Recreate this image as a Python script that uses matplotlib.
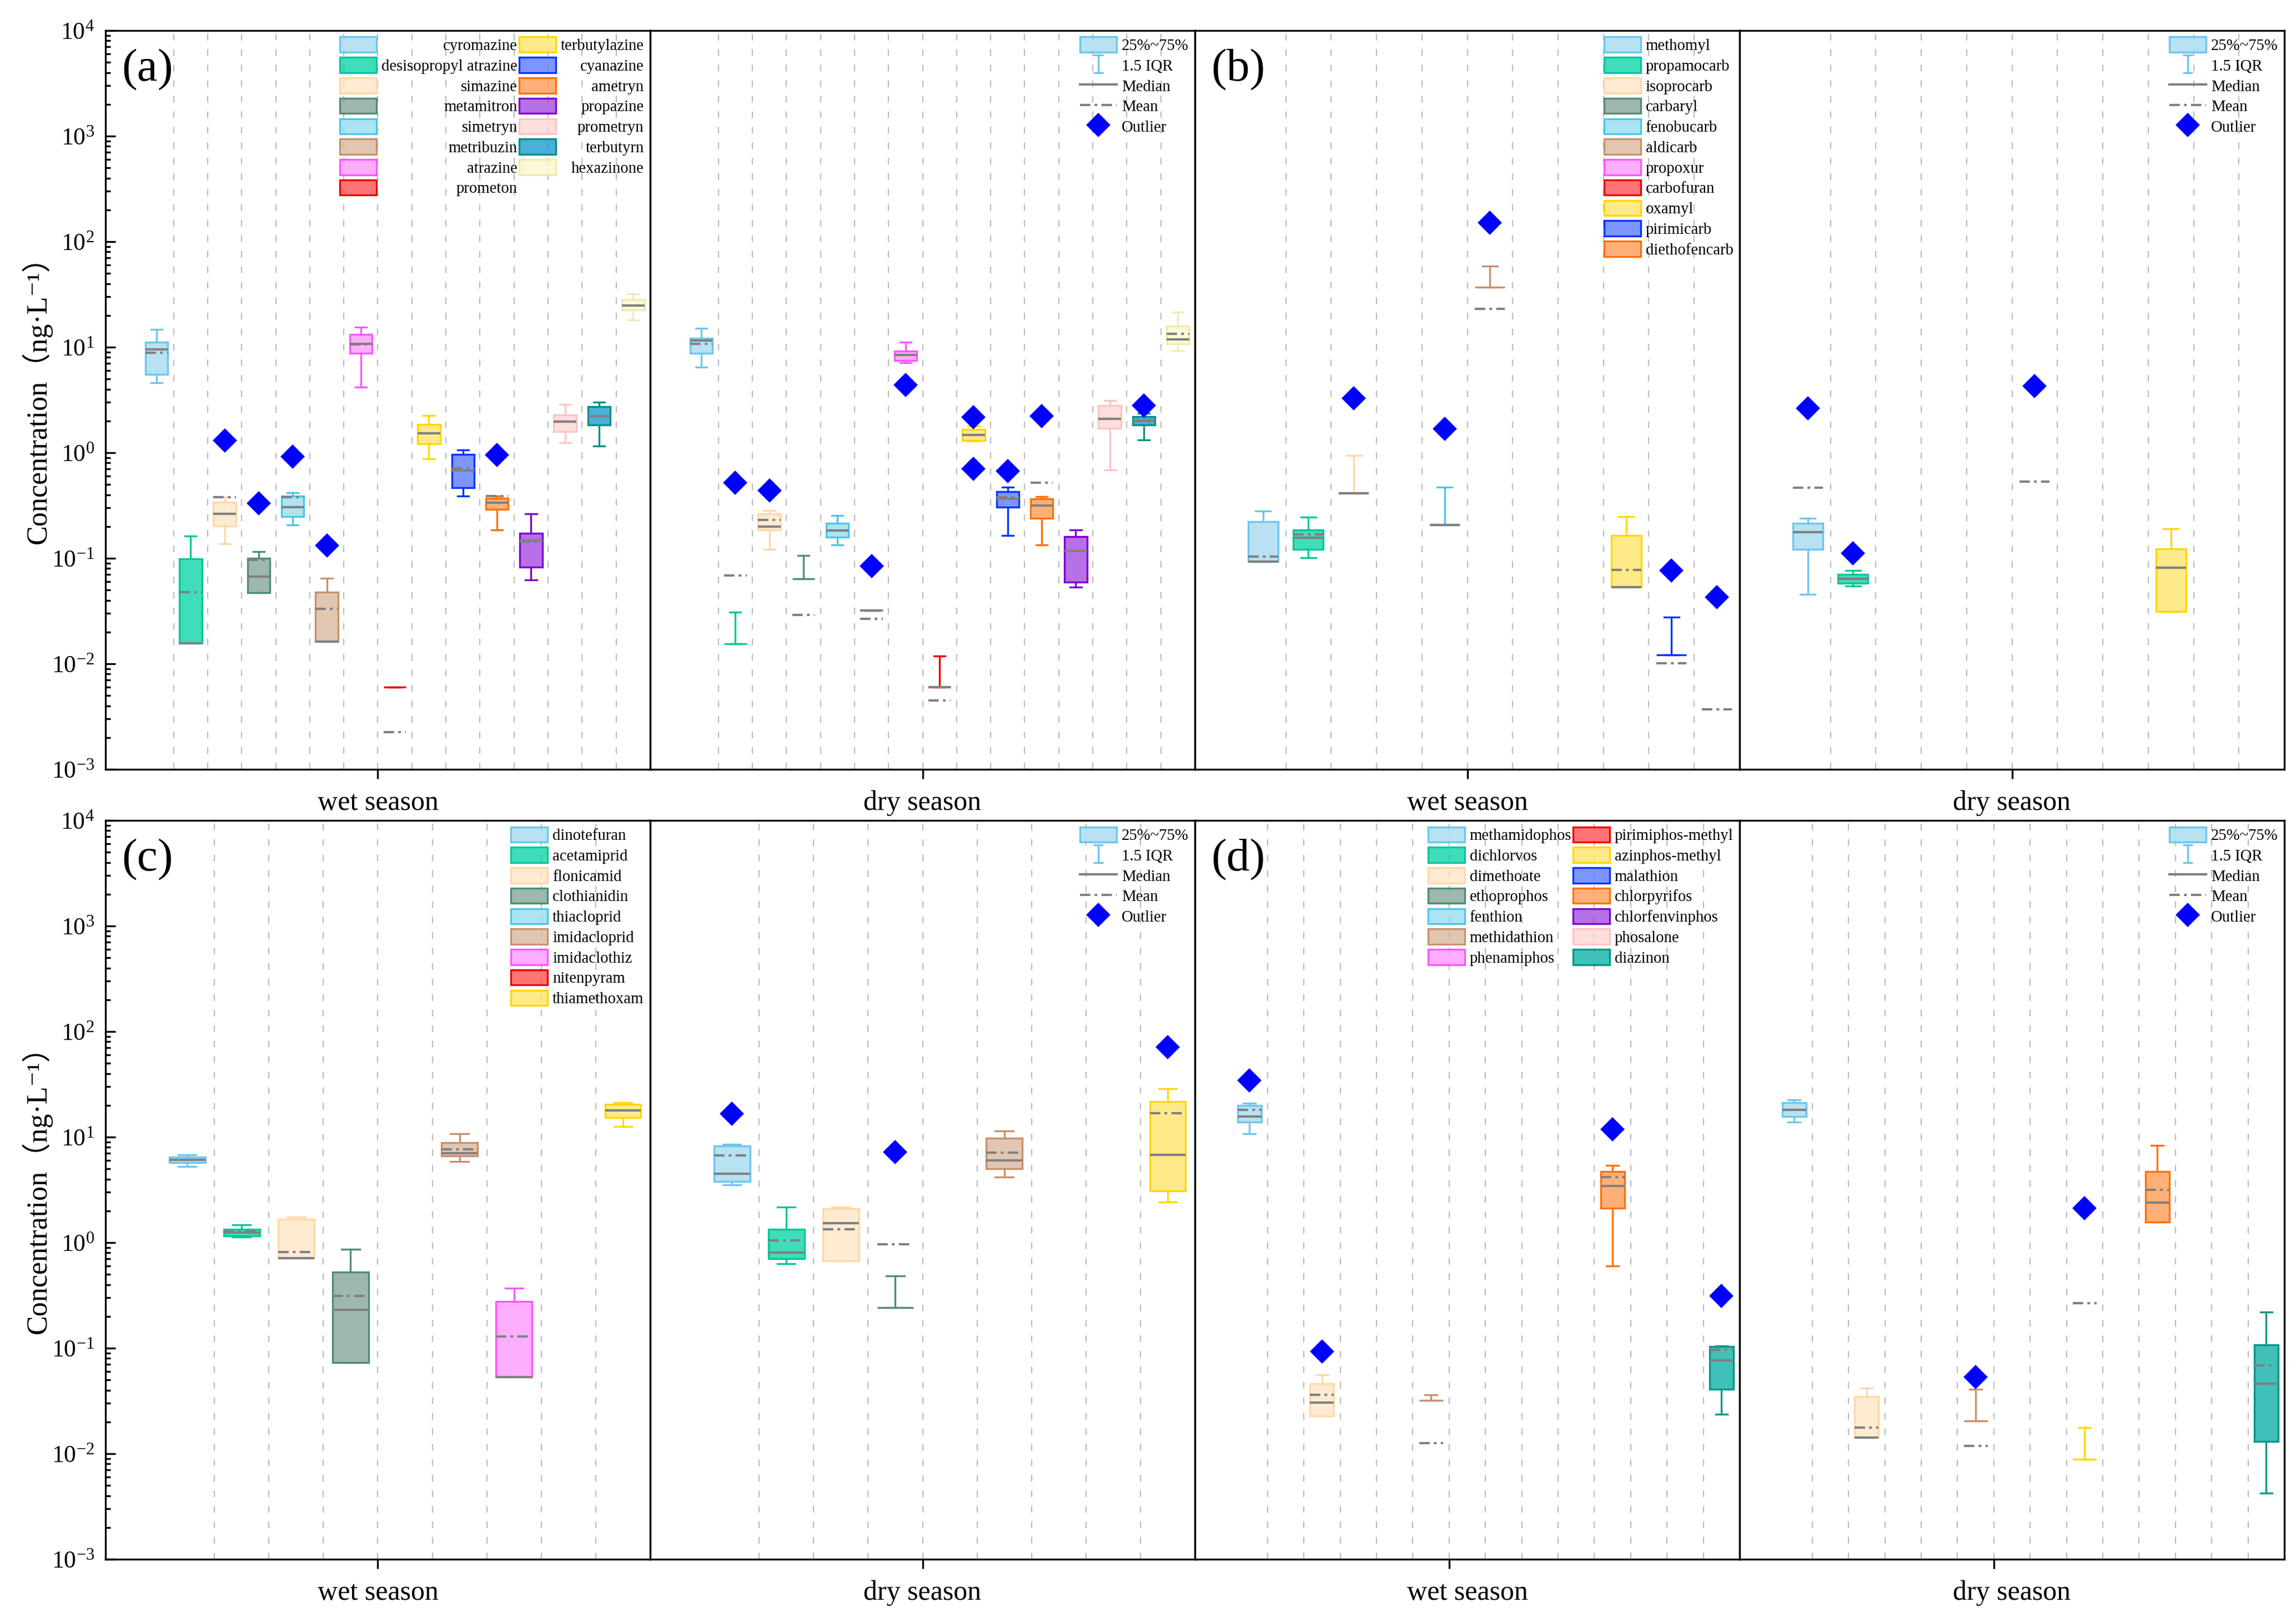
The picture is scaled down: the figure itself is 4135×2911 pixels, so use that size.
import numpy as np
import matplotlib
matplotlib.use('Agg')
import matplotlib.pyplot as plt
from matplotlib.patches import Patch
from matplotlib.lines import Line2D
from matplotlib.path import Path
from matplotlib.colors import to_rgb
from matplotlib.ticker import LogLocator, NullFormatter, NullLocator

plt.rcParams['font.family'] = ['Liberation Serif', 'DejaVu Serif']
plt.rcParams['mathtext.fontset'] = 'stix'
plt.rcParams['lines.scale_dashes'] = False

N = None

#   Compounds
a_names = ['cyromazine', 'desisopropyl atrazine', 'simazine', 'metamitron', 'simetryn',
           'metribuzin', 'atrazine', 'prometon', 'terbutylazine', 'cyanazine', 'ametryn',
           'propazine', 'prometryn', 'terbutyrn', 'hexazinone']
b_names = ['methomyl', 'propamocarb', 'isoprocarb', 'carbaryl', 'fenobucarb', 'aldicarb',
           'propoxur', 'carbofuran', 'oxamyl', 'pirimicarb', 'diethofencarb']
c_names = ['dinotefuran', 'acetamiprid', 'flonicamid', 'clothianidin', 'thiacloprid',
           'imidacloprid', 'imidaclothiz', 'nitenpyram', 'thiamethoxam']
d_names = ['methamidophos', 'dichlorvos', 'dimethoate', 'ethoprophos', 'fenthion',
           'methidathion', 'phenamiphos', 'pirimiphos-methyl', 'azinphos-methyl', 'malathion',
           'chlorpyrifos', 'chlorfenvinphos', 'phosalone', 'diazinon']

#   (whisker low, Q1, median, Q3, whisker high, mean), None = not shown
a_wet = [(4.6, 5.5, 9.5, 11.1, 14.7, 8.9),
         (0.0157, 0.0157, 0.0157, 0.099, 0.162, 0.048),
         (0.137, 0.203, 0.265, 0.34, 0.38, 0.38),
         (0.047, 0.047, 0.067, 0.1, 0.115, 0.096),
         (0.207, 0.248, 0.304, 0.39, 0.42, 0.38),
         (0.0162, 0.0162, 0.0162, 0.048, 0.065, 0.033),
         (4.17, 8.8, 10.8, 13.2, 15.5, 10.6),
         (0.006, 0.006, N, 0.006, 0.006, 0.00224),
         (0.88, 1.22, 1.53, 1.85, 2.24, 1.53),
         (0.39, 0.466, 0.675, 0.97, 1.06, 0.71),
         (0.185, 0.29, 0.336, 0.37, 0.39, 0.39),
         (0.062, 0.082, 0.148, 0.173, 0.265, 0.144),
         (1.25, 1.58, 1.96, 2.27, 2.88, 1.96),
         (1.16, 1.83, 2.22, 2.72, 3.0, 2.22),
         (18.1, 22.5, 24.8, 28.4, 32.0, 24.8)]
a_wet_out = [[], [], [1.31], [0.33], [0.914], [0.132], [], [], [], [], [0.955], [], [], [], []]

a_dry = [(6.45, 8.8, 11.6, 12.1, 15.1, 10.8),
         (0.0155, 0.0155, N, 0.0155, 0.0308, 0.069),
         (0.121, 0.185, 0.199, 0.265, 0.284, 0.232),
         (0.064, 0.064, N, 0.064, 0.106, 0.029),
         (0.134, 0.158, 0.183, 0.215, 0.254, 0.183),
         (0.0321, 0.0321, 0.0321, 0.0321, 0.0321, 0.0266),
         (7.1, 7.5, 8.4, 9.2, 11.1, 8.4),
         (0.006, 0.006, 0.006, 0.006, 0.0118, 0.0045),
         (1.29, 1.31, 1.47, 1.67, 1.79, 1.47),
         (0.164, 0.304, 0.364, 0.43, 0.47, 0.38),
         (0.134, 0.238, 0.318, 0.364, 0.385, 0.52),
         (0.0533, 0.0597, 0.117, 0.16, 0.185, 0.117),
         (0.69, 1.71, 2.1, 2.81, 3.11, 2.1),
         (1.32, 1.83, 2.03, 2.19, 2.35, 2.0),
         (9.35, 10.7, 11.8, 15.9, 21.5, 13.4)]
a_dry_out = [[], [0.52], [0.44], [], [], [0.0846], [4.4], [], [2.17, 0.70], [0.667], [2.22],
             [], [], [2.81], []]

b_wet = [(0.0925, 0.0925, 0.0925, 0.222, 0.281, 0.1035),
         (0.101, 0.121, 0.157, 0.185, 0.245, 0.169),
         (0.412, 0.412, 0.412, 0.412, 0.946, 0.412),
         N,
         (0.207, 0.207, 0.207, 0.207, 0.471, 0.207),
         (37.2, 37.2, N, 37.2, 59.0, 23.2),
         N,
         N,
         (0.0533, 0.0533, 0.0533, 0.164, 0.248, 0.0773),
         (0.0122, 0.0122, N, 0.0122, 0.0278, 0.0101),
         (N, N, N, N, N, 0.00372)]
b_wet_out = [[], [], [3.29], [], [1.69], [151], [], [], [], [0.0764], [0.0426]]

b_dry = [(0.0456, 0.121, 0.177, 0.215, 0.238, 0.466),
         (0.0546, 0.0583, 0.0638, 0.0706, 0.0764, 0.064),
         N, N, N,
         (N, N, N, N, N, 0.533),
         N, N,
         (0.0311, 0.0311, 0.0817, 0.1225, 0.19, 0.0817),
         N, N]
b_dry_out = [[2.63], [0.111], [], [], [], [4.26], [], [], [], [], []]

c_wet = [(5.27, 5.7, 6.1, 6.45, 6.75, 6.1),
         (1.13, 1.16, 1.25, 1.34, 1.48, 1.27),
         (0.708, 0.708, 0.708, 1.66, 1.74, 0.81),
         (0.0734, 0.0734, 0.23, 0.523, 0.867, 0.312),
         N,
         (5.9, 6.6, 7.05, 8.9, 10.7, 7.7),
         (0.053, 0.053, 0.053, 0.276, 0.37, 0.129),
         N,
         (12.6, 15.3, 17.9, 20.5, 21.2, 17.9)]
c_wet_out = [[], [], [], [], [], [], [], [], []]

c_dry = [(3.52, 3.77, 4.5, 8.2, 8.5, 6.67),
         (0.63, 0.70, 0.80, 1.33, 2.17, 1.05),
         (0.67, 0.67, 1.52, 2.1, 2.17, 1.34),
         (0.241, 0.241, N, 0.241, 0.483, 0.96),
         N,
         (4.2, 5.04, 6.0, 9.8, 11.4, 7.1),
         N, N,
         (2.43, 3.08, 6.8, 21.7, 28.6, 16.9)]
c_dry_out = [[16.7], [], [], [7.2], [], [], [], [], [71]]

d_wet = [(10.7, 13.8, 15.6, 20.0, 20.9, 18.1),
         N,
         (0.0229, 0.0229, 0.0306, 0.0459, 0.0561, 0.0362),
         N, N,
         (0.032, 0.032, N, 0.032, 0.0362, 0.0126),
         N, N, N, N,
         (0.598, 2.12, 3.44, 4.71, 5.4, 4.17),
         N, N,
         (0.0237, 0.0406, 0.0767, 0.104, 0.105, 0.097)]
d_wet_out = [[34.3], [], [0.0933], [], [], [], [], [], [], [], [11.9], [], [], [0.312]]

d_dry = [(13.8, 15.6, 18.1, 21.2, 22.6, 18.1),
         N,
         (0.01426, 0.01426, 0.01426, 0.035, 0.042, 0.0177),
         N, N,
         (0.0205, 0.0205, N, 0.0205, 0.0406, 0.0118),
         N, N,
         (0.0089, 0.0089, N, 0.0089, 0.0177, 0.267),
         N,
         (1.57, 1.57, 2.38, 4.71, 8.36, 3.18),
         N, N,
         (0.00425, 0.0131, 0.0459, 0.107, 0.219, 0.069)]
d_dry_out = [[], [], [], [], [], [0.0531], [], [], [2.12], [], [], [], [], []]

#   Colores
edges = ['#6CC6EC', '#00C896', '#FFD8A8', '#4E8C74', '#48C8E8', '#C8906C', '#FF55FF', '#EE0000',
         '#FFD700', '#0033FF', '#FF7000', '#7B00D4', '#FFC4C4', '#009080', '#F2EAB0']
faces = ['#B8E2F2', '#22DDBB', '#FFEBD2', '#9DB8AC', '#ACE4F2', '#E2C6B2', '#FFAEFF', '#FF7474',
         '#FFEA8A', '#7D96FF', '#FFB078', '#B870E8', '#FFDEDE', '#48B0DC', '#FBF8D8']
GREY = '#808080'
MEAN_LS = (0, (4.5, 1.8, 1.2, 1.8))


def face_rgba(c, a=0.75):
    rgb = np.clip((np.array(to_rgb(c)) - (1 - a)) / a, 0, 1)
    return (*rgb, a)


def draw_season(ax, rows, outs, ed, fc):
    n = len(rows)
    for x in range(2, n + 1):
        ax.axvline(x, color='#BDBDBD', lw=0.55, ls=(0, (2.9, 3.8)), zorder=0.5)
    for i, (row, fl) in enumerate(zip(rows, outs)):
        if row is None:
            continue
        lo, q1, med, q3, hi, mean = row
        fill = q1 if q1 is not None else mean
        st = dict(whislo=lo if lo is not None else fill,
                  q1=fill,
                  med=med if med is not None else fill,
                  q3=q3 if q3 is not None else fill,
                  whishi=hi if hi is not None else fill,
                  mean=mean if mean is not None else fill,
                  fliers=np.array(fl))
        art = ax.bxp([st], positions=[i + 1.5], widths=0.66, capwidths=0.33,
                     patch_artist=True, showmeans=True, meanline=True, manage_ticks=False,
                     boxprops=dict(facecolor=face_rgba(fc[i]), edgecolor=ed[i], linewidth=0.8),
                     whiskerprops=dict(color=ed[i], linewidth=0.8),
                     capprops=dict(color=ed[i], linewidth=0.8),
                     medianprops=dict(color=GREY, linewidth=1.0),
                     meanprops=dict(color=GREY, linewidth=1.0, linestyle=MEAN_LS),
                     flierprops=dict(marker='D', markerfacecolor='blue', markeredgecolor='blue',
                                     markersize=6.5, linestyle='none'))
        if q1 is None:
            for k in ('boxes', 'whiskers', 'caps'):
                for a in art[k]:
                    a.set_visible(False)
        if med is None:
            for a in art['medians']:
                a.set_visible(False)
        if mean is None:
            for a in art['means']:
                a.set_visible(False)


def style_axis(ax, n, xlabel, first):
    ax.set_yscale('log')
    ax.set_ylim(1e-3, 1e4)
    ax.set_xlim(0, n + 1)
    for s in ax.spines.values():
        s.set_linewidth(0.8)
    ax.set_xticks([(n + 1) // 2])
    ax.xaxis.set_minor_locator(NullLocator())
    ax.tick_params(axis='x', direction='out', length=4, width=0.8, labelbottom=False, top=False)
    ax.set_xlabel(xlabel, fontsize=12, labelpad=5)
    if first:
        ax.yaxis.set_major_locator(LogLocator(base=10, numticks=10))
        ax.yaxis.set_minor_locator(LogLocator(base=10, subs=np.arange(2, 10), numticks=10))
        ax.yaxis.set_minor_formatter(NullFormatter())
        ax.tick_params(axis='y', which='major', direction='in', length=4.3, width=0.8,
                       labelsize=10.5, pad=4.8)
        ax.tick_params(axis='y', which='minor', direction='in', length=2.2, width=0.8)
        ax.set_ylabel('Concentration（ng·L⁻¹）', fontsize=12.5,
                      family=['Liberation Serif', 'Noto Sans CJK SC', 'DejaVu Serif'])
        ax.yaxis.label.set_verticalalignment('baseline')
        ax.yaxis.set_label_coords(-0.109, 0.51)
    else:
        ax.tick_params(axis='y', which='both', left=False, right=False, labelleft=False)


W, H = 4135, 2911
fig = plt.figure(figsize=(W / 300, H / 300), dpi=300)
lefts = [190, 1171, 2152, 3133]


def add(lx, top):
    return fig.add_axes([lx / W, 1 - (top + 1330) / H, 981 / W, 1330 / H])


ipath = Path([(-0.28, -0.5), (0.28, -0.5), (0, -0.5), (0, 0.5), (-0.28, 0.5), (0.28, 0.5)],
             [Path.MOVETO, Path.LINETO, Path.MOVETO, Path.LINETO, Path.MOVETO, Path.LINETO])
stat_handles = [Patch(facecolor=face_rgba(faces[0]), edgecolor=edges[0], linewidth=0.8),
                Line2D([], [], color=edges[0], marker=ipath, markersize=7.5, markeredgewidth=0.8,
                       markerfacecolor='none', linestyle='none'),
                Line2D([], [], color=GREY, linewidth=1.0),
                Line2D([], [], color=GREY, linewidth=1.0, linestyle=MEAN_LS),
                Line2D([], [], color='blue', marker='D', markersize=6.5, linestyle='none')]
stat_labels = ['25%~75%', '1.5 IQR', 'Median', 'Mean', 'Outlier']

leg_kw = dict(loc='upper right', frameon=False, fontsize=6.9, handlelength=2.3,
              handleheight=1.1, handletextpad=0.3, labelspacing=0.25, borderpad=0.1,
              borderaxespad=0.3, columnspacing=0.1)

panels = [('(a)', a_names, a_wet, a_wet_out, a_dry, a_dry_out, 0, 55, 2),
          ('(b)', b_names, b_wet, b_wet_out, b_dry, b_dry_out, 2, 55, 1),
          ('(c)', c_names, c_wet, c_wet_out, c_dry, c_dry_out, 0, 1477, 1),
          ('(d)', d_names, d_wet, d_wet_out, d_dry, d_dry_out, 2, 1477, 2)]

legends = {}
for tag, names, wet, wet_out, dry, dry_out, col, top, ncol in panels:
    n = len(names)
    ed = edges[:n]
    fc = faces[:n]
    if tag == '(d)':
        ed = ed[:13] + ['#009688']
        fc = fc[:13] + ['#40C0B8']
    ax_w = add(lefts[col], top)
    ax_d = add(lefts[col + 1], top)
    draw_season(ax_w, wet, wet_out, ed, fc)
    draw_season(ax_d, dry, dry_out, ed, fc)
    style_axis(ax_w, n, 'wet season', col == 0)
    style_axis(ax_d, n, 'dry season', False)
    ax_w.text(0.03, 0.975, tag, transform=ax_w.transAxes, ha='left', va='top', fontsize=20)
    handles = [Patch(facecolor=face_rgba(f), edgecolor=e, linewidth=0.8) for f, e in zip(fc, ed)]
    legends[tag] = ax_w.legend(handles, names, ncols=ncol, **leg_kw)
    ax_d.legend(stat_handles, stat_labels, **leg_kw)

#   Etiquetas del panel (a) alineadas a la derecha
fig.canvas.draw()
r = fig.canvas.get_renderer()
texts = legends['(a)'].get_texts()
nrow = int(np.ceil(len(texts) / 2))
for group in (texts[:nrow], texts[nrow:]):
    ws = [t.get_window_extent(r).width for t in group]
    for t, w in zip(group, ws):
        t.set_x(max(ws) - w)

fig.savefig('out.png', dpi=300)
